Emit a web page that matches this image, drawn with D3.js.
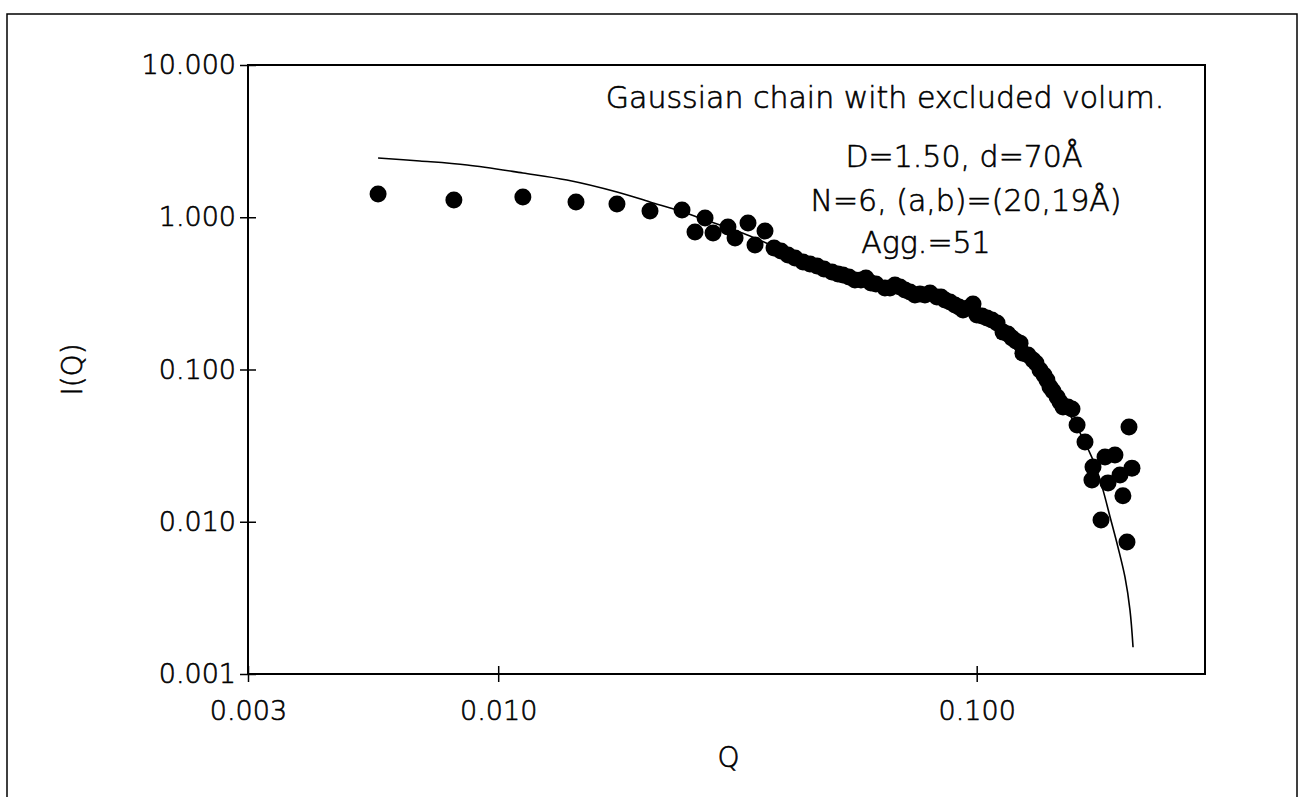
<!DOCTYPE html>
<html>
<head>
<meta charset="utf-8">
<script src="https://cdn.jsdelivr.net/npm/d3@7"></script>
<style>
  body { margin: 0; background: #fff; }
  svg text { font-family: "DejaVu Sans", sans-serif; font-weight: 200; fill: #000; stroke: #000; stroke-width: 0.6px; }
</style>
</head>
<body>
<svg id="chart"></svg>
<script>
// measured points, Q (1/A) and I(Q)
const qData = [0.00561, 0.00808, 0.01126, 0.01454, 0.01771, 0.02076, 0.02422, 0.02706, 0.02578, 0.02812,
  0.03021, 0.03126, 0.03327, 0.03441, 0.03611, 0.03771, 0.04033, 0.04335, 0.04637, 0.04983,
  0.05254, 0.05566, 0.05869, 0.06158, 0.06431, 0.06748, 0.07081, 0.07430, 0.07796, 0.08260,
  0.08584, 0.09007, 0.09363, 0.09824, 0.1001, 0.1051, 0.1103, 0.1135, 0.1185, 0.1232,
  0.1249, 0.1311, 0.1356, 0.1402, 0.1423, 0.1472, 0.1515, 0.1582, 0.1621, 0.1684,
  0.1750, 0.1854, 0.1945, 0.1741, 0.1881, 0.1993, 0.2111, 0.2021, 0.2081, 0.1819, 0.2061,
  0.03899, 0.04172, 0.04483, 0.04796, 0.05130, 0.05408, 0.05730, 0.06013, 0.06588, 0.06913,
  0.07254, 0.07610, 0.07987, 0.08421, 0.08795, 0.09183, 0.09590, 0.1026, 0.1076, 0.1162,
  0.1208, 0.1280, 0.1330, 0.1382, 0.1443, 0.1493, 0.1551];
const iData = [1.421, 1.298, 1.358, 1.259, 1.222, 1.099, 1.116, 0.989, 0.800, 0.788,
  0.863, 0.731, 0.917, 0.657, 0.812, 0.628, 0.565, 0.508, 0.478, 0.437,
  0.418, 0.387, 0.399, 0.364, 0.343, 0.359, 0.333, 0.309, 0.309, 0.299,
  0.286, 0.265, 0.246, 0.269, 0.228, 0.218, 0.202, 0.176, 0.161, 0.149,
  0.128, 0.1154, 0.0993, 0.0853, 0.0768, 0.0660, 0.0567, 0.0550, 0.0432, 0.0334,
  0.0229, 0.0266, 0.0274, 0.0188, 0.0180, 0.0203, 0.0225, 0.0148, 0.0419, 0.01027, 0.00736,
  0.600, 0.540, 0.493, 0.457, 0.424, 0.405, 0.387, 0.370, 0.343, 0.348,
  0.323, 0.313, 0.318, 0.299, 0.2776, 0.257, 0.2534, 0.2246, 0.2114, 0.1711,
  0.1539, 0.1245, 0.1103, 0.0920, 0.0722, 0.0612, 0.0567];

// model curve
const qFit = [0.00561, 0.00686, 0.00861, 0.01126, 0.01392, 0.01771, 0.02076, 0.02433, 0.02641, 0.03359,
  0.04273, 0.05434, 0.06913, 0.08795, 0.1016, 0.1119, 0.1232, 0.1356, 0.1493, 0.1644,
  0.1767, 0.1836, 0.1900, 0.1973, 0.2041, 0.2091, 0.2122];
const iFit = [2.450, 2.342, 2.204, 1.953, 1.756, 1.465, 1.259, 1.083, 0.989, 0.753,
  0.540, 0.411, 0.338, 0.2776, 0.2315, 0.1931, 0.1516, 0.1054, 0.0650, 0.0383,
  0.0236, 0.0162, 0.01075, 0.00683, 0.00434, 0.00263, 0.00150];

const xTicks = [0.003, 0.010, 0.100];
const yTicks = [0.001, 0.010, 0.100, 1.000, 10.000];
const notes = ["Gaussian chain with excluded volum.", "D=1.50, d=70Å", "N=6, (a,b)=(20,19Å)", "Agg.=51"];

const W = 1301, H = 797;
const margin = {top: 65, right: 96, bottom: 123, left: 248};
const iw = W - margin.left - margin.right;
const ih = H - margin.top - margin.bottom;

const svg = d3.select("#chart").attr("width", W).attr("height", H);

// outer frame of the figure
svg.append("rect")
  .attr("x", 7).attr("y", 14)
  .attr("width", 1290).attr("height", 800)
  .attr("fill", "none").attr("stroke", "#000").attr("stroke-width", 1.5);

const g = svg.append("g").attr("transform", `translate(${margin.left},${margin.top})`);

const x = d3.scaleLog().domain([0.003, 0.3]).range([0, iw]);
const y = d3.scaleLog().domain([0.001, 10]).range([ih, 0]);

const fmt = d3.format(".3f");

// bottom axis: outer ticks with labels, inner ticks without
g.append("g").attr("transform", `translate(0,${ih})`)
  .call(d3.axisBottom(x).tickValues(xTicks).tickFormat(fmt).tickSize(8).tickPadding(19));
g.append("g").attr("transform", `translate(0,${ih})`)
  .call(d3.axisTop(x).tickValues(xTicks).tickFormat("").tickSize(8));

g.append("g")
  .call(d3.axisLeft(y).tickValues(yTicks).tickFormat(fmt).tickSize(8).tickPadding(4));
g.append("g")
  .call(d3.axisRight(y).tickValues(yTicks).tickFormat("").tickSize(8));

g.selectAll(".domain").remove();
g.selectAll(".tick line").attr("stroke", "#000").attr("stroke-width", 1.5);
g.selectAll(".tick text").style("font-size", "27px").attr("fill", "#000");

// plot box
g.append("rect")
  .attr("width", iw).attr("height", ih)
  .attr("fill", "none").attr("stroke", "#000").attr("stroke-width", 2);

// model curve
const line = d3.line()
  .x(d => x(d[0]))
  .y(d => y(d[1]))
  .curve(d3.curveCatmullRom);
g.append("path")
  .datum(qFit.map((q, i) => [q, iFit[i]]))
  .attr("d", line)
  .attr("fill", "none").attr("stroke", "#000").attr("stroke-width", 1.6);

// data points
g.selectAll("circle.pt")
  .data(qData.map((q, i) => [q, iData[i]]))
  .join("circle")
  .attr("class", "pt")
  .attr("cx", d => x(d[0]))
  .attr("cy", d => y(d[1]))
  .attr("r", 8.5)
  .attr("fill", "#000");

// axis titles
svg.append("text")
  .attr("x", margin.left + iw / 2 + 2).attr("y", 767)
  .attr("text-anchor", "middle")
  .style("font-size", "28px")
  .text("Q");

svg.append("text")
  .attr("transform", `translate(82,${margin.top + ih / 2}) rotate(-90)`)
  .attr("text-anchor", "middle")
  .style("font-size", "28px")
  .text("I(Q)");

// annotation block
const noteX = [885, 964, 966, 926];
const noteY = [108, 167, 211, 253];
svg.selectAll("text.note")
  .data(notes)
  .join("text")
  .attr("class", "note")
  .attr("x", (d, i) => noteX[i])
  .attr("y", (d, i) => noteY[i])
  .attr("text-anchor", "middle")
  .style("font-size", "30px")
  .text(d => d);
</script>
</body>
</html>
